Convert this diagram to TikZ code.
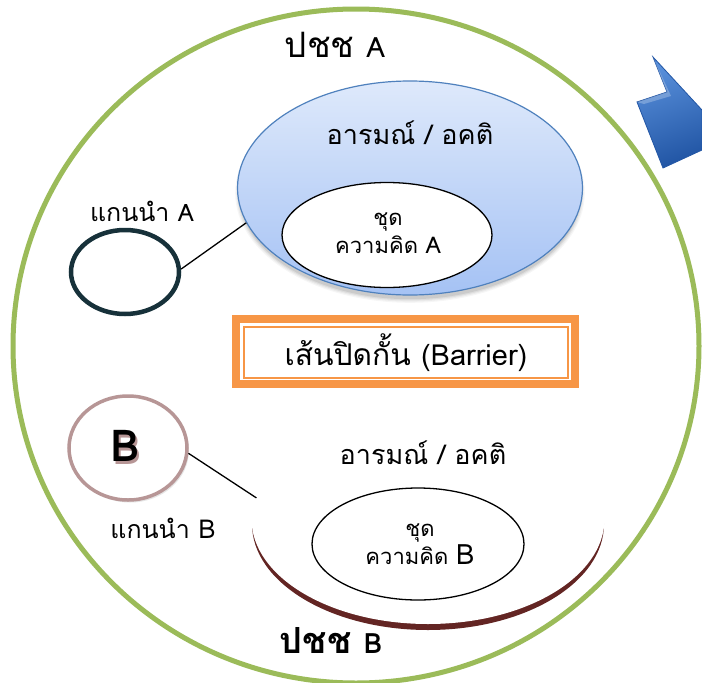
\documentclass[tikz,border=0pt]{standalone}
\usepackage{fontspec}
\newfontfamily\thaifont[Script=Thai]{Loma}
\usetikzlibrary{shapes.geometric}

\definecolor{ringgreen}{RGB}{155,187,89}
\definecolor{emoblue}{RGB}{79,129,189}
\definecolor{emotop}{RGB}{222,233,251}
\definecolor{emobot}{RGB}{165,194,244}
\definecolor{leaddark}{RGB}{23,49,58}
\definecolor{barorange}{RGB}{247,150,70}
\definecolor{rimred}{RGB}{99,37,35}
\definecolor{leadpink}{RGB}{183,150,150}
\definecolor{arrowlight}{RGB}{90,145,220}
\definecolor{arrowdark}{RGB}{34,86,165}

\newcommand\sz[1]{\fontsize{#1}{#1}\selectfont}

\tikzset{
  oval/.style={ellipse, inner sep=0pt},
  txt/.style={inner sep=0pt, align=center},
  connector/.style={draw=black, line width=1.3pt},
}

\begin{document}
\begin{tikzpicture}[x=1pt, y=-1pt, font=\thaifont]
\useasboundingbox (0,0) rectangle (702,683);
\fill[white] (0,0) rectangle (702,683);

% block arrow at the top right
\draw[arrowdark, line width=0.8pt, top color=arrowlight, bottom color=arrowdark, shading angle=20]
  (653,57) -- (702,110) -- (702,150) -- (663,168) -- (637,102) -- (667,92) -- cycle;
\fill[white, opacity=0.25] (653,57) -- (667,92) -- (637,102) -- (644,104) -- (671,96) -- cycle;

% population circle
\draw[ringgreen, line width=5pt] (356,346) ellipse (343 and 337);

% group A: soft shadow, then the emotion ellipse
\foreach \k/\o in {8/0.035,6/0.045,4/0.06,2/0.08}
  \fill[black, opacity=\o] (410,193) ellipse ({170+\k*0.6} and {105+\k*0.6});
\node[oval, draw=emoblue, line width=1.2pt, top color=emotop, bottom color=emobot,
      minimum width=345pt, minimum height=214pt]
      (emoA) at (410,188) {};
\node[txt, font=\thaifont\sz{27}] (emoAtxt) at (410,133) {อารมณ์ / อคติ};
\node[oval, draw=black, line width=1.3pt, fill=white, minimum width=210pt, minimum height=105pt]
      (ideaA) at (387,235) {};
\node[txt, font=\thaifont\fontsize{22}{28}\selectfont] (ideaAtxt) at (388,233) {ชุด\\ความคิด {\sz{23}A}};

\node[txt, font=\thaifont\sz{35}] (popA) at (335,45) {ปชช {\sz{28}A}};

% leader A
\node[oval, draw=leaddark, line width=4.5pt, minimum width=108pt, minimum height=84pt]
      (leadA) at (125,272) {};
\node[txt, font=\thaifont\sz{25}] (leadAtxt) at (142,211) {แกนนำ {\sz{24}A}};
\draw[connector] (leadA.3) -- (emoA.192);

% barrier
\node[txt, draw=barorange, line width=1.8pt, minimum width=324pt, minimum height=51pt,
      font=\thaifont\sz{30}] (bar) at (406,352.5) {เส้นปิดกั้น {\sz{29}(Barrier)}};
\draw[barorange, line width=8pt] ([shift={(-7.5,-7.5)}]bar.north west) rectangle ([shift={(6.5,5.5)}]bar.south east);

% group B
\coordinate (emoBc) at (428,522);
\fill[rimred] (428,524) ellipse (176 and 106);
\fill[white] (428,519) ellipse (176.5 and 105);
\node[oval, minimum width=352pt, minimum height=212pt] (emoB) at (emoBc) {};
\node[txt, font=\thaifont\sz{27}] (emoBtxt) at (423,453) {อารมณ์ / อคติ};
\node[oval, draw=black, line width=1.3pt, fill=white, minimum width=212pt, minimum height=112pt]
      (ideaB) at (418,544) {};
\node[txt, font=\thaifont\fontsize{22}{28}\selectfont] (ideaBtxt) at (420,544) {ชุด\\ความคิด {\sz{28}B}};

\node[txt, font=\thaifont\bfseries\sz{36}] (popB) at (331,640) {ปชช {\sz{28}B}};

% leader B: ring with a faint shadow and a shadowed letter
\fill[black!10] (130,450) ellipse (59 and 52.5);
\node[oval, draw=leadpink, line width=3.5pt, fill=white, minimum width=118pt, minimum height=104pt]
      (leadB) at (128,448) {};
\node[txt, font=\thaifont\bfseries\sz{44}] (leadBlbl) at (125,447)
  {\makebox[0pt][l]{\hspace{2.5pt}\raisebox{-3pt}{\color{leadpink}B}}B};
\node[txt, font=\thaifont\sz{25}] (leadBtxt) at (163,528) {แกนนำ {\sz{26}B}};
\draw[connector] (leadB.-5) -- (emoB.172);
\end{tikzpicture}
\end{document}
